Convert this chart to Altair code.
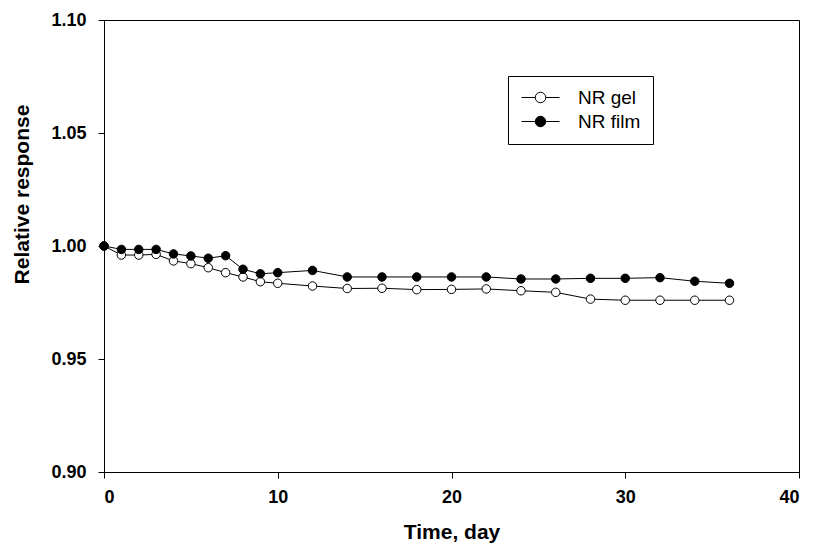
import altair as alt
import pandas as pd

days = [0, 1, 2, 3, 4, 5, 6, 7, 8, 9, 10, 12, 14, 16, 18, 20, 22, 24, 26, 28, 30, 32, 34, 36]
gel = [1.000, 0.996, 0.996, 0.9963, 0.9934, 0.9922, 0.9904, 0.9882, 0.9863, 0.9842, 0.9835,
       0.9823, 0.9812, 0.9813, 0.9807, 0.9808, 0.9810, 0.9802, 0.9795, 0.9765, 0.9760, 0.9760,
       0.9760, 0.9760]
film = [1.000, 0.9985, 0.9985, 0.9985, 0.9965, 0.9956, 0.9946, 0.9957, 0.9897, 0.9877, 0.9882,
        0.9892, 0.9863, 0.9863, 0.9863, 0.9863, 0.9863, 0.9854, 0.9854, 0.9857, 0.9857, 0.9860,
        0.9844, 0.9835]
series_names = ["NR gel", "NR film"]
x_ticks = [0, 10, 20, 30, 40]
y_ticks = [0.90, 0.95, 1.00, 1.05, 1.10]

rows = []
for name, vals in zip(series_names, [gel, film]):
    for d, v in zip(days, vals):
        rows.append({"day": d, "value": v, "series": name})
df = pd.DataFrame(rows)

FONT = "Liberation Sans"

x_enc = alt.X("day:Q", scale=alt.Scale(domain=[0, 40], nice=False, zero=False),
              axis=alt.Axis(values=x_ticks, title="Time, day", format="d",
                            labelPadding=10, titleX=347.5, titleY=60,
                            titleBaseline="middle"))
y_enc = alt.Y("value:Q", scale=alt.Scale(domain=[0.90, 1.10], nice=False, zero=False),
              axis=alt.Axis(values=y_ticks, title="Relative response", format=".2f",
                            labelPadding=12, titleX=-82, titleY=174, titleAngle=-90,
                            titleAlign="center", titleBaseline="middle"))

base = alt.Chart(df)

lines = base.mark_line(color="black", strokeWidth=1).encode(
    x=x_enc, y=y_enc, detail="series:N"
)

points = base.mark_point(filled=True, shape="circle", size=72, stroke="black",
                         strokeWidth=1, opacity=1).encode(
    x=x_enc, y=y_enc,
    fill=alt.Fill("series:N", scale=alt.Scale(domain=series_names, range=["white", "black"]),
                  sort=series_names,
                  legend=alt.Legend(title=None, orient="none", legendX=404, legendY=56))
)

sym = ("M-3.8,0H-1.05M1.05,0H3.8M-1.05,0A1.05,1.05,0,1,1,1.05,0"
       "A1.05,1.05,0,1,1,-1.05,0Z")

chart = alt.layer(lines, points).properties(
    width=695, height=452,
    autosize=alt.AutoSizeParams(type="none"),
    padding={"left": 96, "top": 12, "right": 6, "bottom": 76},
).configure_view(
    stroke="black", strokeWidth=1
).configure_axis(
    grid=False, domainColor="black", domainWidth=1, tickColor="black", tickSize=6,
    tickWidth=1, labelFont=FONT, labelFontSize=18, labelFontWeight="bold",
    labelColor="black", titleFont=FONT, titleFontSize=21, titleFontWeight="bold",
    titleColor="black"
).configure_legend(
    strokeColor="black", fillColor="white", padding=12, rowPadding=4,
    symbolType=sym, symbolSize=100, symbolStrokeColor="black", symbolStrokeWidth=1,
    symbolOffset=11,
    labelFont=FONT, labelFontSize=19, labelColor="black", labelOffset=28,
    cornerRadius=0
)

chart.save("out.html", embed_options={"renderer": "svg", "actions": False})
